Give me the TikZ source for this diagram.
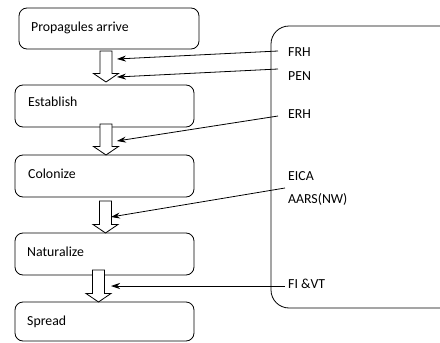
\documentclass[tikz,border=0pt]{standalone}
\usepackage{fontspec}
\setmainfont{Carlito}
\usetikzlibrary{arrows.meta}

\tikzset{
  stagebox/.style={draw, line width=0.8pt, rounded corners=8pt, inner sep=0pt},
  stagetext/.style={anchor=base west, inner sep=0pt, font=\fontsize{13.8}{16}\selectfont},
  factortext/.style={anchor=base west, inner sep=0pt, font=\fontsize{13.8}{16}\selectfont},
  panel/.style={draw, line width=0.8pt, rounded corners=18pt},
  conn/.style={line width=0.8pt, -{Stealth[length=9pt,width=6pt]}},
  hollowarrow/.style={draw, line width=0.8pt, fill=white},
  pics/downarrow/.style={
    code={
      % hollow block arrow, drawn downward from its top centre
      \draw[hollowarrow] (-6,0) -- (6,0) -- (6,#1-8.5) -- (12.5,#1-8.5)
        -- (0,#1) -- (-12.5,#1-8.5) -- (-6,#1-8.5) -- cycle;
    }
  }
}

\begin{document}
\begin{tikzpicture}[x=1pt,y=-1pt]
\useasboundingbox (0,0) rectangle (440,343);

% stages of the invasion process
\node[stagebox, minimum width=180pt, minimum height=41pt] (prop) at (109,28.5) {};
\node[stagebox, minimum width=179pt, minimum height=42pt] (est)  at (104.5,106) {};
\node[stagebox, minimum width=179pt, minimum height=42pt] (col)  at (104.5,176) {};
\node[stagebox, minimum width=179pt, minimum height=42pt] (nat)  at (104.5,254) {};
\node[stagebox, minimum width=179pt, minimum height=39pt] (spr)  at (104.5,321.5) {};

\node[stagetext] (tprop) at (31,31) {Propagules arrive};
\node[stagetext] (test)  at (28,106.7) {Establish};
\node[stagetext] (tcol)  at (28,178) {Colonize};
\node[stagetext] (tnat)  at (27,256) {Naturalize};
\node[stagetext] (tspr)  at (27,325.7) {Spread};

% transitions between stages
\pic at (106,51)  {downarrow=31};
\pic at (106,124) {downarrow=31};
\pic at (105.5,201) {downarrow=32};
\pic at (98.5,270) {downarrow=32};

% panel of hypotheses
\draw[panel] (271,26) rectangle (460,308);

\node[factortext] (frh)  at (288,56.7)  {FRH};
\node[factortext] (pen)  at (288,80)    {PEN};
\node[factortext] (erh)  at (288,118.3) {ERH};
\node[factortext] (eica) at (288,180)   {EICA};
\node[factortext] (aars) at (288,203.3) {AARS(NW)};
\node[factortext] (fivt) at (288,288.3) {FI \&VT};

% start and end points of the connectors
\coordinate (frh-s)  at (278,51);
\coordinate (pen-s)  at (278,69);
\coordinate (erh-s)  at (278,116);
\coordinate (eica-s) at (285,188);
\coordinate (fivt-s) at (285,286);

\coordinate (frh-t)  at (117,59);
\coordinate (pen-t)  at (117,77);
\coordinate (erh-t)  at (117,141);
\coordinate (eica-t) at (111,217);
\coordinate (fivt-t) at (111,286);

\draw[conn] (frh-s)  -- (frh-t);
\draw[conn] (pen-s)  -- (pen-t);
\draw[conn] (erh-s)  -- (erh-t);
\draw[conn] (eica-s) -- (eica-t);
\draw[conn] (fivt-s) -- (fivt-t);
\end{tikzpicture}
\end{document}
